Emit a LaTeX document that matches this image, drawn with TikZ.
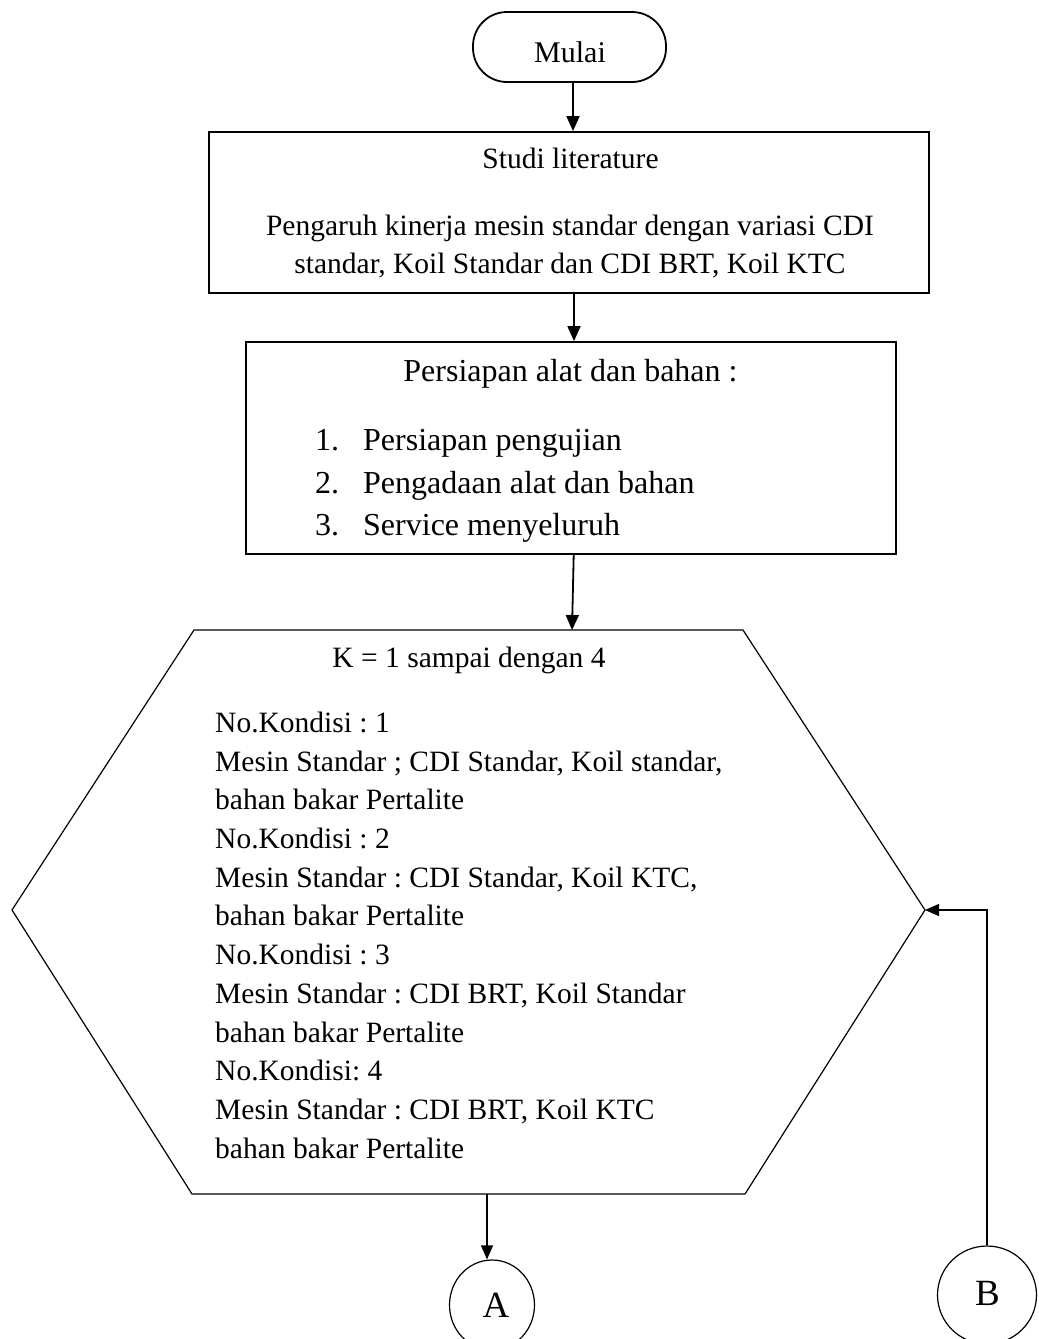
\documentclass[tikz,border=0pt]{standalone}
\usepackage{fontspec}
\setmainfont{Liberation Serif}
\usetikzlibrary{arrows.meta,calc,shapes.geometric}
\frenchspacing
\tikzset{
  boxline/.style={draw, line width=1.8pt},
  thinline/.style={draw, line width=1.2pt},
  arr/.style={line width=1.8pt, -{Triangle[length=15pt,width=13pt]}},
  arrthin/.style={line width=1.3pt, -{Triangle[length=14pt,width=12pt]}},
  txt/.style={inner sep=0pt, font=\fontsize{29.5pt}{34pt}\selectfont},
  txtbig/.style={inner sep=0pt, font=\fontsize{32pt}{36pt}\selectfont},
}
\begin{document}
\begin{tikzpicture}[x=1pt,y=-1pt]
\useasboundingbox (0,0) rectangle (1039,1339);
\fill[white] (0,0) rectangle (1039,1339);

% shapes
\node[boxline, rounded corners=34pt, minimum width=193pt, minimum height=70pt, inner sep=0pt] (mulai) at (569.5,47) {};
\node[txt, anchor=base, font=\fontsize{30pt}{34pt}\selectfont] (tmulai) at (570,62) {Mulai};

\node[boxline, minimum width=720pt, minimum height=161pt, inner sep=0pt] (box1) at (569,212.5) {};
\node[txt, anchor=base] (t11) at (570.5,168) {Studi literature};
\node[txt, anchor=base] (t12) at (570,235) {Pengaruh kinerja mesin standar dengan variasi CDI};
\node[txt, anchor=base] (t13) at (570,273) {standar, Koil Standar dan CDI BRT, Koil KTC};

\node[boxline, minimum width=650pt, minimum height=212pt, inner sep=0pt] (box2) at (570.7,448) {};
\node[txtbig, anchor=base] (t21) at (570.5,381.7) {Persiapan alat dan bahan :};
\node[txtbig, anchor=base west] (n1) at (315,450) {1.};
\node[txtbig, anchor=base west] (n2) at (315,493) {2.};
\node[txtbig, anchor=base west] (n3) at (315,535) {3.};
\node[txtbig, anchor=base west] (i1) at (363,450) {Persiapan pengujian};
\node[txtbig, anchor=base west] (i2) at (363,493) {Pengadaan alat dan bahan};
\node[txtbig, anchor=base west] (i3) at (363,535) {Service menyeluruh};

\coordinate (hextl) at (194,630);
\coordinate (hextr) at (743,630);
\coordinate (hexright) at (925,910);
\coordinate (hexbr) at (745,1194);
\coordinate (hexbl) at (192,1194);
\coordinate (hexleft) at (12,910);
\coordinate (hextop) at (572,630);
\coordinate (hexbot) at (487,1194);
\draw[thinline] (hextl) -- (hextr) -- (hexright) -- (hexbr) -- (hexbl) -- (hexleft) -- cycle;

\node[txt, anchor=base] (k) at (469,667) {K = 1 sampai dengan 4};
\foreach \i/\s in {0/{No.Kondisi : 1},
                   1/{Mesin Standar ; CDI Standar, Koil standar,},
                   2/{bahan bakar Pertalite},
                   3/{No.Kondisi : 2},
                   4/{Mesin Standar : CDI Standar, Koil KTC,},
                   5/{bahan bakar Pertalite},
                   6/{No.Kondisi : 3},
                   7/{Mesin Standar : CDI BRT, Koil Standar},
                   8/{bahan bakar Pertalite},
                   9/{No.Kondisi: 4},
                   10/{Mesin Standar : CDI BRT, Koil KTC},
                   11/{bahan bakar Pertalite}}
  \node[txt, anchor=base west] (h\i) at (215,{732.4+38.7*\i}) {\s};

\node[thinline, ellipse, minimum width=85pt, minimum height=90pt, inner sep=0pt] (A) at (492,1305) {};
\node[txt, anchor=base, font=\fontsize{37pt}{40pt}\selectfont] (tA) at (496,1317) {A};
\node[thinline, ellipse, minimum width=99pt, minimum height=98pt, inner sep=0pt] (B) at (987,1295) {};
\node[txt, anchor=base, font=\fontsize{37pt}{40pt}\selectfont] (tB) at (987.5,1305) {B};

% connectors
\draw[arr] ([xshift=3.5pt]mulai.south) -- ([xshift=3.5pt]mulai.south |- box1.north);
\draw[arr] ([xshift=5pt]box1.south) -- ([xshift=5pt]box1.south |- box2.north);
\draw[arr] ([xshift=3pt]box2.south) -- (hextop);
\draw[arrthin] (hexbot) -- (hexbot |- A.north);
\draw[arrthin] (B.north) -- (B.north |- hexright) -- (hexright);
\end{tikzpicture}
\end{document}
